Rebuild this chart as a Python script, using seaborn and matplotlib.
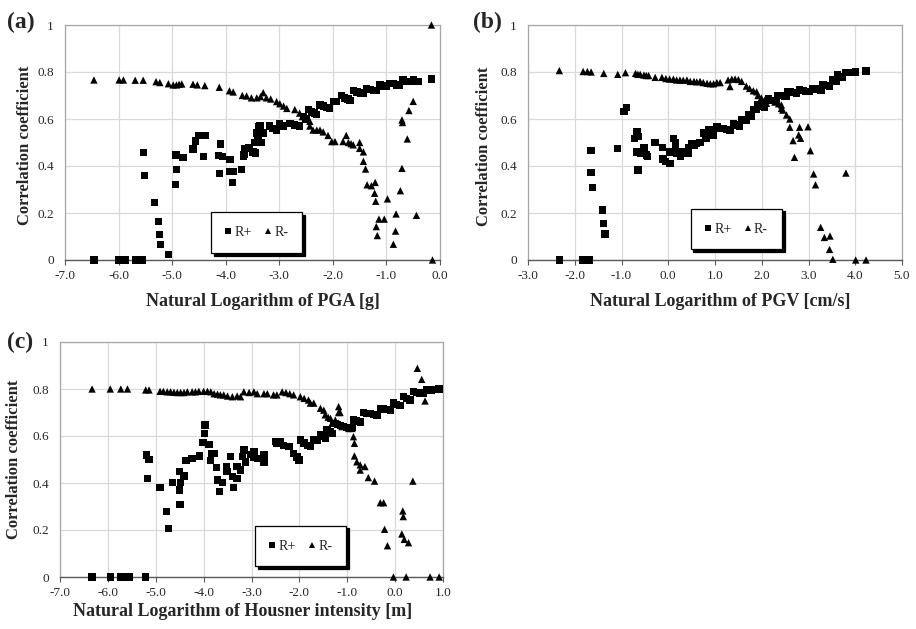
import numpy as np
import pandas as pd
import matplotlib
matplotlib.use("Agg")
import matplotlib.pyplot as plt
import seaborn as sns

# ---------------- data ----------------
# Panel (a): PGA
a_rp_x = [-6.46, -5.99, -5.93, -5.87, -5.69, -5.55, -5.54, -5.52, -5.33, -5.26, -5.24, -5.22, -5.07,
          -4.94, -4.92, -4.93, -4.80, -4.61, -4.57, -4.51, -4.38, -4.41, -4.11, -4.10, -4.14, -4.06,
          -3.92, -3.93, -3.85, -3.87, -3.70, -3.67, -3.66, -3.64, -3.58, -3.49, -3.46, -3.42, -3.39,
          -3.55, -3.50, -3.45, -3.36, -3.30, -3.40, -3.33, -3.18, -3.12, -3.05, -2.99, -2.93, -2.80,
          -2.72, -2.62, -2.55, -2.50, -2.46, -2.40, -2.34, -2.30, -2.24, -2.18, -2.12, -2.06, -1.99,
          -1.93, -1.84, -1.78, -1.72, -1.68, -1.62, -1.55, -1.49, -1.43, -1.37, -1.30, -1.24, -1.18,
          -1.12, -1.06, -1.00, -0.94, -0.87, -0.81, -0.75, -0.69, -0.62, -0.56, -0.50, -0.45, -0.41,
          -0.16]
a_rp_y = [0.0, 0.0, 0.0, 0.0, 0.0, 0.0, 0.458, 0.359, 0.244, 0.163, 0.109, 0.067, 0.024,
          0.322, 0.386, 0.447, 0.436, 0.472, 0.506, 0.529, 0.529, 0.44, 0.369, 0.494, 0.444, 0.44,
          0.428, 0.376, 0.376, 0.329, 0.386, 0.44, 0.45, 0.475, 0.48, 0.46, 0.50, 0.54, 0.567,
          0.48, 0.46, 0.455, 0.57, 0.54, 0.52, 0.50, 0.57, 0.56, 0.55, 0.58, 0.57, 0.58,
          0.575, 0.57, 0.61, 0.60, 0.64, 0.63, 0.625, 0.62, 0.66, 0.655, 0.65, 0.645, 0.674,
          0.674, 0.70, 0.69, 0.685, 0.68, 0.72, 0.715, 0.71, 0.71, 0.73, 0.725, 0.72, 0.72,
          0.745, 0.74, 0.74, 0.75, 0.75, 0.745, 0.745, 0.766, 0.76, 0.76, 0.766, 0.76, 0.76,
          0.77]
a_rm_x = [-6.46, -5.99, -5.91, -5.69, -5.54, -5.30, -5.23, -5.07, -4.98, -4.92, -4.87, -4.82, -4.61,
          -4.53, -4.39, -4.12, -3.93, -3.86, -3.69, -3.61, -3.52, -3.42, -3.35, -3.30, -3.24, -3.16,
          -3.05, -2.99, -2.92, -2.86, -2.71, -2.62, -2.57, -2.52, -2.43, -2.43, -2.37, -2.30, -2.24,
          -2.18, -2.09, -2.02, -1.96, -1.81, -1.75, -1.71, -1.66, -1.62, -1.50, -1.50, -1.43, -1.43,
          -1.39, -1.36, -1.28, -1.21, -1.22, -1.20, -1.14, -1.04, -1.19, -1.17, -0.98, -0.83, -0.82,
          -0.87, -0.74, -0.71, -0.61, -0.71, -0.70, -0.58, -0.50, -0.44, -0.16, -0.14]
a_rm_y = [0.766, 0.766, 0.766, 0.765, 0.765, 0.759, 0.755, 0.75, 0.745, 0.745, 0.748, 0.749, 0.748,
          0.745, 0.742, 0.735, 0.72, 0.715, 0.70, 0.698, 0.69, 0.69, 0.695, 0.712, 0.69, 0.685,
          0.674, 0.665, 0.655, 0.645, 0.64, 0.625, 0.61, 0.60, 0.59, 0.57, 0.553, 0.553, 0.553,
          0.545, 0.53, 0.504, 0.504, 0.504, 0.53, 0.50, 0.495, 0.49, 0.50, 0.475, 0.46, 0.42,
          0.387, 0.32, 0.316, 0.33, 0.284, 0.25, 0.174, 0.174, 0.142, 0.104, 0.26, 0.123, 0.196,
          0.067, 0.295, 0.39, 0.515, 0.596, 0.585, 0.636, 0.675, 0.19, 1.0, 0.0]

# Panel (b): PGV
b_rp_x = [-2.33, -1.82, -1.75, -1.68, -1.65, -1.65, -1.62, -1.40, -1.39, -1.35, -1.09, -0.95, -0.90,
          -0.67, -0.72, -0.63, -0.65, -0.67, -0.60, -0.52, -0.47, -0.44, -0.28, -0.12, -0.11, -0.06,
          0.04, 0.04, 0.11, 0.15, 0.15, 0.18, 0.26, 0.29, 0.36, 0.43, 0.43, 0.50, 0.56, 0.61,
          0.68, 0.75, 0.80, 0.82, 0.86, 0.91, 0.96, 1.04, 0.89, 0.97, 1.10, 1.18, 1.25, 1.32,
          1.39, 1.46, 1.53, 1.57, 1.62, 1.67, 1.71, 1.78, 1.82, 1.89, 1.92, 1.99, 2.06, 2.14,
          2.20, 2.26, 2.31, 2.35, 2.42, 2.48, 2.53, 2.56, 2.62, 2.68, 2.74, 2.81, 2.88, 2.95,
          3.02, 3.09, 3.15, 3.21, 3.27, 3.31, 3.38, 3.45, 3.52, 3.59, 3.62, 3.68, 3.73, 3.80,
          3.87, 4.01, 4.23]
b_rp_y = [0.0, 0.0, 0.0, 0.0, 0.465, 0.373, 0.309, 0.213, 0.156, 0.11, 0.475, 0.631, 0.65,
          0.546, 0.518, 0.525, 0.383, 0.46, 0.454, 0.48, 0.447, 0.44, 0.50, 0.48, 0.43, 0.42,
          0.41, 0.46, 0.518, 0.50, 0.475, 0.454, 0.44, 0.46, 0.454, 0.454, 0.48, 0.496, 0.49, 0.496,
          0.50, 0.54, 0.53, 0.518, 0.553, 0.55, 0.553, 0.567, 0.54, 0.53, 0.56, 0.56, 0.555, 0.553,
          0.58, 0.575, 0.567, 0.596, 0.595, 0.596, 0.62, 0.61, 0.64, 0.64, 0.66, 0.655, 0.65, 0.688,
          0.68, 0.678, 0.674, 0.70, 0.70, 0.697, 0.695, 0.716, 0.715, 0.712, 0.71, 0.723, 0.72, 0.718,
          0.716, 0.73, 0.728, 0.725, 0.723, 0.745, 0.742, 0.738, 0.766, 0.76, 0.787, 0.782, 0.777, 0.797,
          0.797, 0.80, 0.804]
b_rm_x = [-2.33, -1.82, -1.73, -1.65, -1.38, -1.08, -0.915, -0.70, -0.65, -0.60, -0.52, -0.47, -0.42,
          -0.28, -0.135, -0.05, 0.03, 0.11, 0.18, 0.25, 0.32, 0.40, 0.47, 0.55, 0.61, 0.68,
          0.75, 0.83, 0.90, 0.97, 1.04, 1.11, 1.28, 1.32, 1.36, 1.43, 1.50, 1.57, 1.67, 1.74,
          1.82, 1.89, 1.92, 1.99, 2.06, 2.10, 2.18, 2.28, 2.36, 2.42, 2.42, 2.45, 2.53, 2.60,
          2.60, 2.81, 2.99, 2.79, 2.83, 2.67, 2.70, 3.04, 3.11, 3.15, 3.80, 3.26, 3.34, 3.46,
          3.45, 3.52, 4.01, 4.23]
b_rm_y = [0.806, 0.802, 0.802, 0.80, 0.794, 0.79, 0.797, 0.794, 0.79, 0.79, 0.787, 0.785, 0.785,
          0.777, 0.777, 0.772, 0.77, 0.77, 0.766, 0.766, 0.765, 0.766, 0.76, 0.76, 0.758, 0.76,
          0.755, 0.752, 0.75, 0.75, 0.755, 0.755, 0.766, 0.738, 0.77, 0.77, 0.768, 0.76, 0.74, 0.73,
          0.72, 0.716, 0.70, 0.69, 0.68, 0.667, 0.68, 0.672, 0.665, 0.66, 0.645, 0.638, 0.617, 0.60,
          0.565, 0.565, 0.567, 0.532, 0.518, 0.508, 0.437, 0.465, 0.366, 0.32, 0.37, 0.139, 0.096, 0.102,
          0.045, 0.003, 0.0, 0.0]

# Panel (c): Housner intensity
c_rp_x = [-6.33, -5.95, -5.74, -5.68, -5.62, -5.56, -5.22, -5.19, -5.14, -5.17, -4.91, -4.77, -4.74,
          -4.65, -4.50, -4.48, -4.50, -4.49, -4.41, -4.37, -4.24, -4.08, -3.97, -3.98, -4.01, -3.89,
          -3.84, -3.78, -3.85, -3.73, -3.71, -3.61, -3.67, -3.52, -3.51, -3.44, -3.40, -3.38, -3.30,
          -3.30, -3.23, -3.19, -3.13, -3.16, -3.02, -2.95, -2.88, -2.95, -2.74, -2.74, -2.50, -2.40,
          -2.47, -2.33, -2.22, -2.12, -2.05, -2.01, -1.98, -1.90, -1.83, -1.77, -1.70, -1.63, -1.56,
          -1.50, -1.46, -1.42, -1.36, -1.32, -1.28, -1.21, -1.14, -1.08, -1.01, -0.94, -0.90, -0.87,
          -0.80, -0.73, -0.66, -0.59, -0.52, -0.45, -0.38, -0.31, -0.24, -0.17, -0.10, -0.03, 0.03,
          0.10, 0.17, 0.24, 0.31, 0.38, 0.45, 0.52, 0.59, 0.66, 0.76, 0.92]
c_rp_y = [0.0, 0.0, 0.0, 0.0, 0.0, 0.0, 0.0, 0.519, 0.50, 0.42, 0.381, 0.278, 0.207,
          0.403, 0.45, 0.403, 0.37, 0.309, 0.43, 0.495, 0.505, 0.515, 0.647, 0.611, 0.572, 0.565,
          0.526, 0.526, 0.495, 0.465, 0.413, 0.401, 0.363, 0.47, 0.448, 0.512, 0.427, 0.38, 0.42,
          0.47, 0.455, 0.512, 0.49, 0.54, 0.52, 0.533, 0.505, 0.51, 0.52, 0.49, 0.576, 0.576,
          0.568, 0.56, 0.555, 0.526, 0.51, 0.498, 0.583, 0.57, 0.56, 0.555, 0.583, 0.583, 0.604,
          0.597, 0.59, 0.625, 0.618, 0.611, 0.654, 0.65, 0.645, 0.64, 0.637, 0.632, 0.637, 0.668,
          0.664, 0.66, 0.70, 0.697, 0.695, 0.692, 0.69, 0.718, 0.715, 0.712, 0.71, 0.74, 0.735,
          0.73, 0.767, 0.76, 0.753, 0.788, 0.785, 0.783, 0.78, 0.796, 0.796, 0.80]
c_rm_x = [-6.33, -5.95, -5.73, -5.59, -5.21, -5.14, -4.91, -4.84, -4.76, -4.69, -4.62, -4.55, -4.48,
          -4.41, -4.34, -4.24, -4.17, -4.10, -4.00, -3.92, -3.85, -3.78, -3.71, -3.65, -3.58, -3.50,
          -3.40, -3.30, -3.23, -3.16, -3.05, -2.95, -2.88, -2.74, -2.67, -2.54, -2.47, -2.36, -2.28,
          -2.20, -2.12, -1.98, -1.90, -1.81, -1.77, -1.70, -1.56, -1.49, -1.46, -1.40, -1.35, -1.32,
          -1.18, -1.18, -1.15, -1.25, -1.18, -1.11, -0.97, -0.90, -0.87, -0.85, -0.85, -0.80, -0.73,
          -0.63, -0.73, -0.56, -0.43, -0.31, -0.24, -0.22, -0.16, -0.035, 0.16, 0.17, 0.14, 0.19,
          0.28, 0.23, 0.37, 0.465, 0.555, 0.625, 0.73, 0.92]
c_rm_y = [0.80, 0.80, 0.80, 0.80, 0.796, 0.796, 0.79, 0.79, 0.788, 0.788, 0.786, 0.785, 0.785,
          0.785, 0.788, 0.788, 0.788, 0.79, 0.79, 0.79, 0.788, 0.78, 0.778, 0.775, 0.775, 0.77,
          0.767, 0.77, 0.767, 0.788, 0.785, 0.788, 0.78, 0.78, 0.78, 0.775, 0.775, 0.788, 0.785,
          0.78, 0.775, 0.767, 0.76, 0.753, 0.74, 0.74, 0.718, 0.71, 0.69, 0.68, 0.675, 0.654,
          0.725, 0.70, 0.70, 0.668, 0.655, 0.64, 0.632, 0.632, 0.597, 0.569, 0.515, 0.49, 0.477,
          0.47, 0.455, 0.423, 0.408, 0.316, 0.316, 0.203, 0.133, 0.0, 0.281, 0.257, 0.183, 0.16,
          0.146, 0.0, 0.408, 0.888, 0.841, 0.749, 0.0, 0.0]

x_ranges = {"a": (-7.0, 0.0), "b": (-3.0, 5.0), "c": (-7.0, 1.0)}
x_titles = {"a": "Natural Logarithm of PGA [g]",
            "b": "Natural Logarithm of PGV [cm/s]",
            "c": "Natural Logarithm of Housner intensity [m]"}
y_title = "Correlation coefficient"
y_ticks = [0.0, 0.2, 0.4, 0.6, 0.8, 1.0]
y_ticklabels = ["0", "0.2", "0.4", "0.6", "0.8", "1"]
series_names = ["R+", "R-"]

# ---------------- style ----------------
sns.set_style("white")
plt.rcParams["font.family"] = ["Liberation Serif", "DejaVu Serif"]
plt.rcParams["axes.unicode_minus"] = False

W, H = 916, 629
fig = plt.figure(figsize=(W / 100, H / 100), dpi=100)


def px_axes(l, t, r, b):
    return fig.add_axes([l / W, 1 - b / H, (r - l) / W, (b - t) / H])


def make_df(xp, yp, xm, ym):
    return pd.DataFrame({
        "x": list(xp) + list(xm),
        "y": list(yp) + list(ym),
        "series": ["R+"] * len(xp) + ["R-"] * len(xm),
    })


panels = [
    ("a", (65, 25, 440, 260), make_df(a_rp_x, a_rp_y, a_rm_x, a_rm_y),
     (0.389, 0.03), (7, 22), (25, 145), (263, 301)),
    ("b", (528, 25, 902, 260), make_df(b_rp_x, b_rp_y, b_rm_x, b_rm_y),
     (0.435, 0.045), (473, 22), (484, 146), (720, 301)),
    ("c", (60, 342, 443, 577), make_df(c_rp_x, c_rp_y, c_rm_x, c_rm_y),
     (0.509, 0.045), (7, 342), (14, 459), (243, 611)),
]

for key, box, df, leg_pos, letter_pos, ylab_pos, xlab_pos in panels:
    ax = px_axes(*box)
    sns.scatterplot(data=df, x="x", y="y", hue="series", style="series",
                    markers={"R+": "s", "R-": "^"},
                    palette={"R+": "black", "R-": "black"},
                    s=28, linewidth=0, ax=ax, clip_on=False, zorder=5,
                    legend=True)
    xmin, xmax = x_ranges[key]
    ax.set_xlim(xmin, xmax)
    ax.set_ylim(0, 1)
    xt = np.arange(xmin, xmax + 0.01, 1.0)
    ax.set_xticks(xt)
    ax.set_xticklabels([f"{v:.1f}" for v in xt])
    ax.set_yticks(y_ticks)
    ax.set_yticklabels(y_ticklabels)
    ax.set_xlabel("")
    ax.set_ylabel("")
    ax.grid(True, color="#d9d9d9", linewidth=0.9)
    ax.set_axisbelow(True)
    for s in ["top", "right", "left"]:
        ax.spines[s].set_color("#a6a6a6")
        ax.spines[s].set_linewidth(0.9)
    ax.spines["bottom"].set_color("#595959")
    ax.spines["bottom"].set_linewidth(1.0)
    ax.tick_params(axis="x", which="major", direction="out", length=3.5,
                   width=0.8, color="#595959", pad=3.5, labelsize=9.5)
    ax.tick_params(axis="y", length=0, pad=8, labelsize=9.5)
    ax.tick_params(left=False, bottom=True)

    handles, labels = ax.get_legend_handles_labels()
    ax.legend(handles=handles, labels=labels, loc="lower left",
              bbox_to_anchor=leg_pos, ncol=2, frameon=True, fancybox=False,
              shadow={"color": "black", "alpha": 1.0}, edgecolor="black",
              fontsize=10, markerscale=0.8, handlelength=0.5,
              handletextpad=0.2, columnspacing=0.9, borderpad=1.0,
              borderaxespad=0.0, framealpha=1.0)
    ax.get_legend().get_frame().set_linewidth(0.9)

    fig.text(letter_pos[0] / W, 1 - letter_pos[1] / H, f"({key})",
             fontsize=17, fontweight="bold", ha="left", va="center")
    fig.text(ylab_pos[0] / W, 1 - ylab_pos[1] / H, y_title,
             fontsize=12, fontweight="bold", rotation=90,
             ha="center", va="center")
    fig.text(xlab_pos[0] / W, 1 - xlab_pos[1] / H, x_titles[key],
             fontsize=13, fontweight="bold", ha="center", va="center")

fig.savefig("out.png", dpi=100)
